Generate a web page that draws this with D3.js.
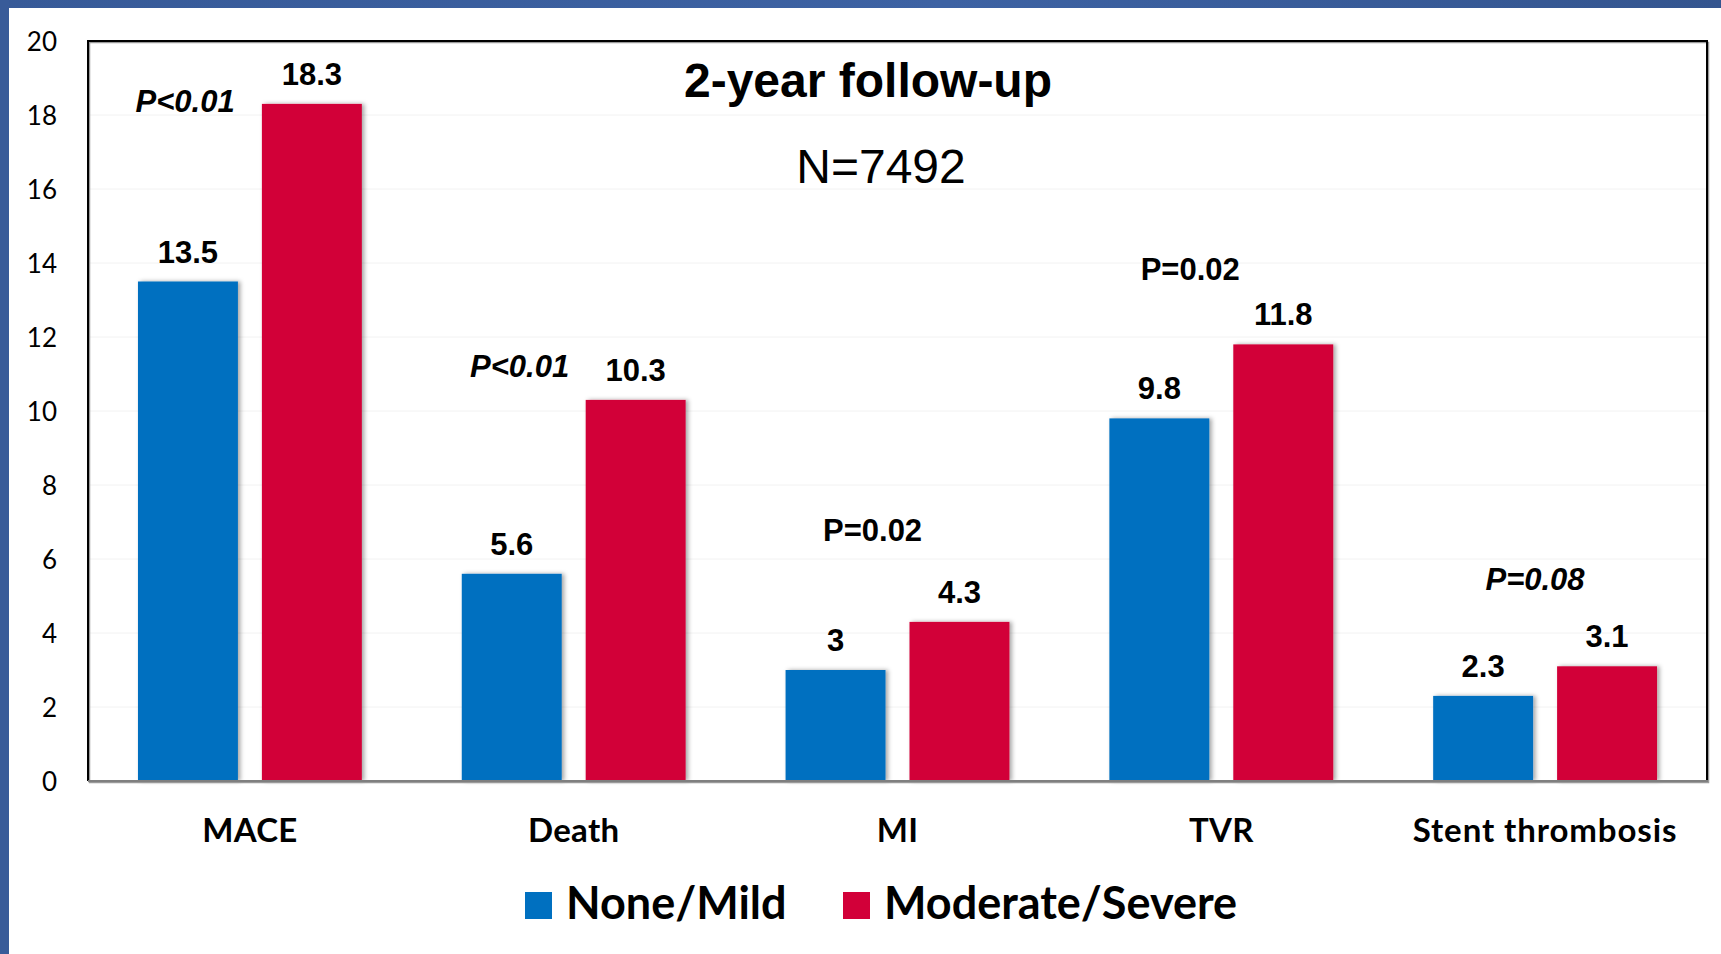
<!DOCTYPE html>
<html>
<head>
<meta charset="utf-8">
<script src="https://cdn.jsdelivr.net/npm/d3@7/dist/d3.min.js"></script>
<style>
  html, body { margin: 0; padding: 0; background: #ffffff; }
  svg { display: block; }
</style>
</head>
<body>
<script>
// ---- Data ----
const categories = ["MACE", "Death", "MI", "TVR", "Stent thrombosis"];
const seriesNames = ["None/Mild", "Moderate/Severe"];
const noneMild = [13.5, 5.6, 3, 9.8, 2.3];
const moderateSevere = [18.3, 10.3, 4.3, 11.8, 3.1];
const valueLabels = [["13.5", "18.3"], ["5.6", "10.3"], ["3", "4.3"], ["9.8", "11.8"], ["2.3", "3.1"]];
const pTexts = ["P<0.01", "P<0.01", "P=0.02", "P=0.02", "P=0.08"];
const pItalic = [true, true, false, false, true];
const yTicks = [0, 2, 4, 6, 8, 10, 12, 14, 16, 18, 20];
const titleText = "2-year follow-up";
const subtitleText = "N=7492";

// annotation placement (y in data units, x as fraction of the category band)
const pLevel = [18.08, 10.92, 6.49, 13.54, 5.16];
const pBandFrac = [0.30, 0.333, 0.423, 0.404, 0.469];

const colors = ["#0070C0", "#D20039"];

const W = 1721, H = 954;
const plot = { left: 88, top: 41, right: 1707, bottom: 781 };

const svg = d3.select("body").append("svg").attr("width", W).attr("height", H);

const defs = svg.append("defs");
const grad = defs.append("linearGradient").attr("id", "band").attr("x1", "0%").attr("x2", "100%");
grad.append("stop").attr("offset", "0%").attr("stop-color", "#375a98");
grad.append("stop").attr("offset", "55%").attr("stop-color", "#3d62a3");
grad.append("stop").attr("offset", "100%").attr("stop-color", "#34558f");
const filt = defs.append("filter").attr("id", "shadow").attr("x", "-10%").attr("y", "-10%").attr("width", "130%").attr("height", "130%");
filt.append("feDropShadow").attr("dx", 2.5).attr("dy", 0).attr("stdDeviation", 2.2)
  .attr("flood-color", "#000").attr("flood-opacity", 0.35);

// background & frame bands
svg.append("rect").attr("x", 0).attr("y", 0).attr("width", W).attr("height", H).attr("fill", "#ffffff");
svg.append("rect").attr("x", 0).attr("y", 0).attr("width", W).attr("height", 8).attr("fill", "url(#band)");
svg.append("rect").attr("x", 0).attr("y", 0).attr("width", 9).attr("height", H).attr("fill", "#385b99");

// scales
const x0 = d3.scaleBand().domain(categories).range([plot.left, plot.right]).paddingInner(0).paddingOuter(0);
// group layout: 50px outer margins, 24px gap within a 324px band
const innerPad = 50 / 324;
const x1 = d3.scaleBand().domain(seriesNames)
  .range([x0.bandwidth() * innerPad, x0.bandwidth() * (1 - innerPad)])
  .paddingInner(24 / 124).paddingOuter(0);
const y = d3.scaleLinear().domain([0, 20]).range([plot.bottom, plot.top]);

// faint gridlines
svg.append("g").selectAll("line").data(yTicks.filter(d => d > 0 && d < 20)).join("line")
  .attr("x1", plot.left).attr("x2", plot.right)
  .attr("y1", d => y(d)).attr("y2", d => y(d))
  .attr("stroke", "#f2f2f2").attr("stroke-width", 1);

// y axis labels
const yAxis = d3.axisLeft(y).tickValues(yTicks).tickSize(0).tickPadding(0).tickFormat(d3.format("d"));
const gy = svg.append("g").attr("transform", `translate(57,0)`).call(yAxis);
gy.select(".domain").remove();
gy.selectAll("text").attr("font-family", "Lato, 'Open Sans', sans-serif").attr("font-size", 26)
  .attr("fill", "#000").attr("dy", "0.36em");

// bars
const groups = svg.append("g").selectAll("g").data(categories).join("g")
  .attr("transform", d => `translate(${x0(d)},0)`);
groups.each(function (cat, i) {
  const vals = [noneMild[i], moderateSevere[i]];
  const g = d3.select(this);
  g.selectAll("rect").data(vals).join("rect")
    .attr("x", (d, j) => x1(seriesNames[j]))
    .attr("width", x1.bandwidth())
    .attr("y", d => y(d))
    .attr("height", d => y(0) - y(d))
    .attr("fill", (d, j) => colors[j])
    .attr("filter", "url(#shadow)");
  g.selectAll("text.val").data(vals).join("text").attr("class", "val")
    .attr("x", (d, j) => x1(seriesNames[j]) + x1.bandwidth() / 2)
    .attr("y", d => y(d) - 19)
    .attr("text-anchor", "middle")
    .attr("font-family", "'Liberation Sans', Arial, sans-serif")
    .attr("font-weight", "bold").attr("font-size", 31).attr("fill", "#000")
    .text((d, j) => valueLabels[i][j]);
});

// P value annotations
svg.append("g").selectAll("text").data(categories).join("text")
  .attr("x", (d, i) => x0(d) + x0.bandwidth() * pBandFrac[i])
  .attr("y", (d, i) => y(pLevel[i]))
  .attr("text-anchor", "middle")
  .attr("font-family", "'Liberation Sans', Arial, sans-serif")
  .attr("font-weight", "bold")
  .attr("font-style", (d, i) => pItalic[i] ? "italic" : "normal")
  .attr("font-size", 31).attr("fill", "#000")
  .text((d, i) => pTexts[i]);

// frame
svg.append("rect").attr("x", plot.left + 1.5).attr("y", plot.top + 1.5)
  .attr("width", plot.right - plot.left).attr("height", plot.bottom - plot.top)
  .attr("fill", "none").attr("stroke", "#9a9a9a").attr("stroke-width", 1.5);
svg.append("path")
  .attr("d", `M${plot.left},${plot.bottom} V${plot.top} H${plot.right} V${plot.bottom}`)
  .attr("fill", "none").attr("stroke", "#000").attr("stroke-width", 2);
svg.append("line").attr("x1", plot.left).attr("x2", plot.right + 1)
  .attr("y1", y(0)).attr("y2", y(0)).attr("stroke", "#7f7f7f").attr("stroke-width", 2);

// category axis labels
const xAxis = d3.axisBottom(x0).tickSize(0).tickPadding(0);
const gx = svg.append("g").attr("transform", `translate(0,842)`).call(xAxis);
gx.select(".domain").remove();
gx.selectAll("text").attr("font-family", "Lato, 'Open Sans', sans-serif").attr("font-weight", "bold")
  .attr("font-size", 33).attr("letter-spacing", (d) => d.length > 6 ? 0.9 : 0.3)
  .attr("fill", "#000").attr("dy", 0).attr("y", 0);

// title
svg.append("text").attr("x", 868).attr("y", 97).attr("text-anchor", "middle")
  .attr("font-family", "'Liberation Sans', Arial, sans-serif").attr("font-weight", "bold")
  .attr("font-size", 48).attr("fill", "#000").text(titleText);
svg.append("text").attr("x", 881).attr("y", 183).attr("text-anchor", "middle")
  .attr("font-family", "'Liberation Sans', Arial, sans-serif")
  .attr("font-size", 48).attr("fill", "#000").text(subtitleText);

// legend
const legendX = [525, 843];
const leg = svg.append("g").selectAll("g").data(seriesNames).join("g")
  .attr("transform", (d, i) => `translate(${legendX[i]},892)`);
leg.append("rect").attr("width", 27).attr("height", 27).attr("fill", (d, i) => colors[i]);
leg.append("text").attr("x", 41).attr("y", 27)
  .attr("font-family", "Lato, 'Open Sans', sans-serif").attr("font-weight", "bold")
  .attr("font-size", 45).attr("fill", "#000").text(d => d);
</script>
</body>
</html>
